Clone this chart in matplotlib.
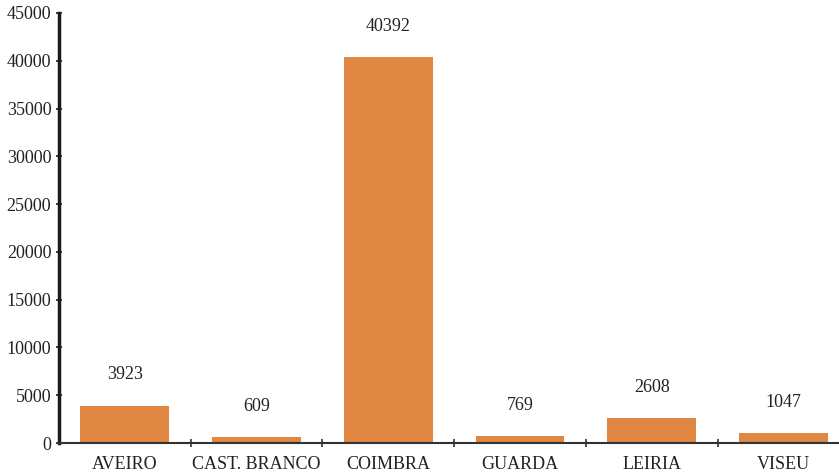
import matplotlib
matplotlib.use('Agg')
import numpy as np
from matplotlib import pyplot as plt
from matplotlib.ticker import FixedLocator

districts = ['AVEIRO', 'CAST. BRANCO', 'COIMBRA', 'GUARDA', 'LEIRIA', 'VISEU']
counts = [3923, 609, 40392, 769, 2608, 1047]
y_ticks = list(range(0, 45001, 5000))

plt.rcParams['font.family'] = ['Liberation Serif', 'DejaVu Serif']

fig = plt.figure(figsize=(8.39, 4.74), dpi=100)
# axes run a little past the right edge of the figure
ax = fig.add_axes([0.0703, 0.0654, 0.942, 0.9072])

x = np.arange(len(districts))
bars = ax.bar(x, counts, width=0.675, color='#DF8743')

for rect, val in zip(bars, counts):
    ax.annotate(str(val), (rect.get_x() + rect.get_width() / 2, val),
                xytext=(0, 22), textcoords='offset points',
                ha='center', va='center', fontsize=13, color='#222222')

ax.set_xlim(-0.5, len(districts) - 0.5)
ax.set_ylim(0, 45000)
ax.set_yticks(y_ticks)
ax.set_yticklabels([str(t) for t in y_ticks], fontsize=13, color='#222222')

ax.set_xticks(x)
ax.set_xticklabels(districts, fontsize=13, color='#222222')
ax.tick_params(axis='x', which='major', length=0, pad=9)
ax.xaxis.set_minor_locator(FixedLocator(x[:-1] + 0.5))
ax.tick_params(axis='x', which='minor', length=6, direction='inout',
               width=1.2, color='#333333')
ax.tick_params(axis='y', length=5, direction='inout', width=1.2,
               color='#1a1a1a', pad=3)

for side in ('top', 'right'):
    ax.spines[side].set_visible(False)
ax.spines['left'].set_linewidth(2.5)
ax.spines['left'].set_color('#1a1a1a')
ax.spines['bottom'].set_linewidth(1.5)
ax.spines['bottom'].set_color('#333333')

fig.savefig('out.png', dpi=100)
